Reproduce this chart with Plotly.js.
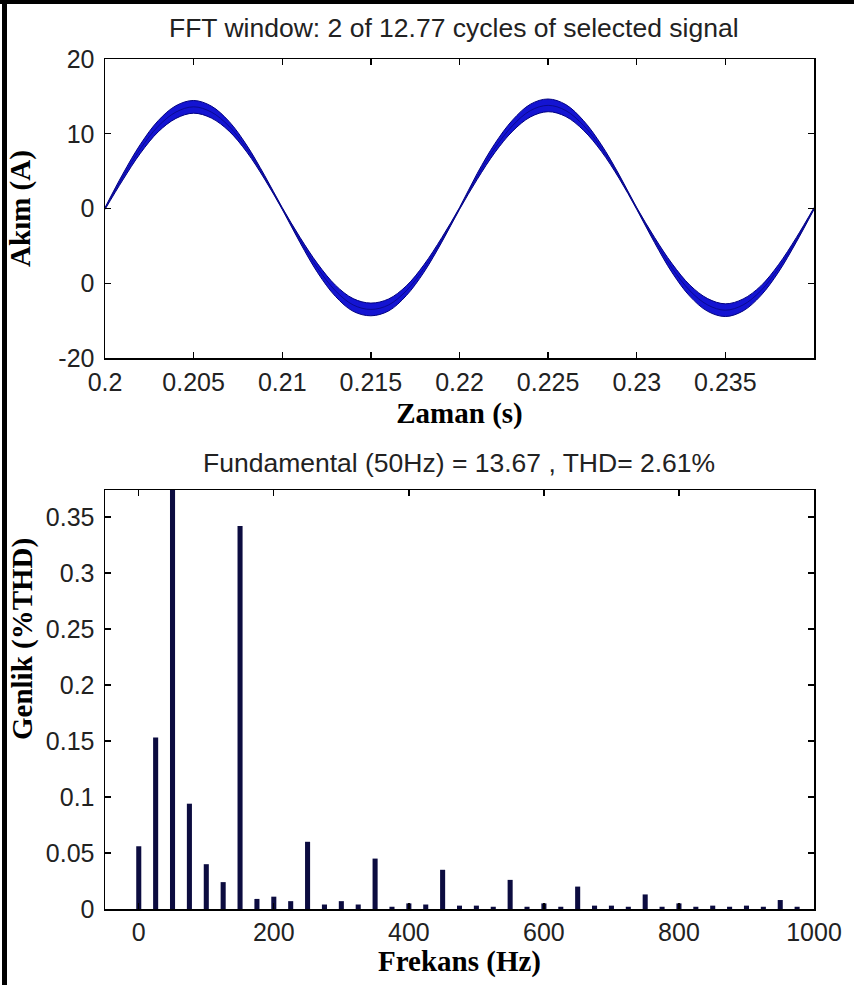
<!DOCTYPE html>
<html>
<head>
<meta charset="utf-8">
<script src="https://cdn.plot.ly/plotly-3.0.1.min.js"></script>
<style>
  html, body { margin: 0; padding: 0; background: #fff; }
  #wrap { position: relative; width: 854px; height: 985px; overflow: hidden; }
  #chart { position: absolute; left: 0; top: 0; width: 854px; height: 985px; }
  .bl { position: absolute; left: 2px; top: 0; width: 5px; height: 985px; background: #000; }
  .bt { position: absolute; left: 0; top: 0; width: 854px; height: 4px; background: #000; }
</style>
</head>
<body>
<div id="wrap">
  <div id="chart"></div>
  <div class="bl"></div>
  <div class="bt"></div>
</div>
<script>
// ---- Time signal ----
const timeS = [0.200,0.201,0.202,0.203,0.204,0.205,0.206,0.207,0.208,0.209,
               0.210,0.211,0.212,0.213,0.214,0.215,0.216,0.217,0.218,0.219,
               0.220,0.221,0.222,0.223,0.224,0.225,0.226,0.227,0.228,0.229,
               0.230,0.231,0.232,0.233,0.234,0.235,0.236,0.237,0.238,0.239,0.240];
const currentA = [0,4.2,8.0,11.0,12.9,13.6,12.9,11.0,8.0,4.2,
                  0,-4.2,-8.0,-11.0,-12.9,-13.5,-12.9,-11.0,-8.0,-4.2,
                  0,4.3,8.1,11.1,13.1,13.8,13.1,11.1,8.1,4.3,
                  0,-4.2,-8.0,-11.0,-12.9,-13.6,-12.9,-11.0,-8.0,-4.2,0];
const rippleA = [0.12,0.4,0.6,0.75,0.85,0.85,0.8,0.65,0.45,0.25,
                 0.12,0.35,0.6,0.75,0.85,0.85,0.8,0.65,0.5,0.3,
                 0.12,0.4,0.6,0.75,0.85,0.85,0.8,0.65,0.45,0.25,
                 0.12,0.35,0.6,0.75,0.85,0.85,0.8,0.65,0.5,0.3,0.12];

// ---- Harmonic spectrum ----
const freqHz = [0,25,50,75,100,125,150,175,200,225,
                250,275,300,325,350,375,400,425,450,475,
                500,525,550,575,600,625,650,675,700,725,
                750,775,800,825,850,875,900,925,950,975];
const magPct = [0.056,0.153,100,0.094,0.040,0.024,0.342,0.009,0.011,0.007,
                0.060,0.004,0.007,0.004,0.045,0.002,0.005,0.004,0.035,0.003,
                0.003,0.002,0.026,0.002,0.005,0.002,0.020,0.003,0.003,0.002,
                0.013,0.002,0.005,0.002,0.003,0.002,0.003,0.002,0.008,0.002];

// ---- Tick labels ----
const topYVals = [20,10,0,-10,-20];
const topYText = ["20","10","0","0","-20"];
const topXVals = [0.2,0.205,0.21,0.215,0.22,0.225,0.23,0.235];
const topXText = ["0.2","0.205","0.21","0.215","0.22","0.225","0.23","0.235"];
const botYVals = [0,0.05,0.1,0.15,0.2,0.25,0.3,0.35];
const botYText = ["0","0.05","0.1","0.15","0.2","0.25","0.3","0.35"];
const botXVals = [0,200,400,600,800,1000];

const upper = currentA.map((v,i)=>v+rippleA[i]);
const lower = currentA.map((v,i)=>v-rippleA[i]);

const sans = "Liberation Sans, Arial, sans-serif";
const serif = "Liberation Serif, Times New Roman, serif";

const traces = [
  {x: timeS, y: upper, type:'scatter', mode:'lines', line:{color:'#000080', width:1, shape:'spline'},
   xaxis:'x', yaxis:'y', hoverinfo:'skip', showlegend:false},
  {x: timeS, y: lower, type:'scatter', mode:'lines', line:{color:'#000080', width:1, shape:'spline'},
   fill:'tonexty', fillcolor:'#1414d2', xaxis:'x', yaxis:'y', showlegend:false},
  {x: timeS, y: currentA, type:'scatter', mode:'lines', line:{color:'#0a0a90', width:1, shape:'spline'},
   xaxis:'x', yaxis:'y', showlegend:false},
  {x: freqHz, y: magPct, type:'bar', marker:{color:'#0c0c40'}, width:7.5,
   xaxis:'x2', yaxis:'y2', showlegend:false}
];

const axCommon = {
  showgrid:false, zeroline:false, showline:true, linecolor:'#000', linewidth:1.5,
  mirror:'ticks', ticks:'inside', ticklen:6, tickwidth:1.3, tickcolor:'#000',
  tickfont:{family:sans, size:25, color:'#222'}
};

const layout = {
  width:854, height:985,
  margin:{l:105, r:40, t:59, b:76},
  paper_bgcolor:'#fff', plot_bgcolor:'#fff',
  showlegend:false,
  xaxis: Object.assign({}, axCommon, {
    domain:[0,1], anchor:'y', range:[0.2,0.24],
    tickmode:'array', tickvals:topXVals, ticktext:topXText, ticklabelstandoff:1,
    title:{text:'Zaman (s)', font:{family:serif, size:29, color:'#000', weight:'bold'}, standoff:8}
  }),
  yaxis: Object.assign({}, axCommon, {
    domain:[0.6482,1], anchor:'x', range:[-20,20],
    tickmode:'array', tickvals:topYVals, ticktext:topYText, ticklabelstandoff:4,
    title:{text:'Akım (A)', font:{family:serif, size:29, color:'#000', weight:'bold'}, standoff:19}
  }),
  xaxis2: Object.assign({}, axCommon, {
    domain:[0,1], anchor:'y2', range:[-50,1000],
    tickmode:'array', tickvals:botXVals, ticklabelstandoff:0,
    title:{text:'Frekans (Hz)', font:{family:serif, size:29, color:'#000', weight:'bold'}, standoff:0}
  }),
  yaxis2: Object.assign({}, axCommon, {
    domain:[0,0.4929], anchor:'x2', range:[0,0.374],
    tickmode:'array', tickvals:botYVals, ticktext:botYText, ticklabelstandoff:4
  }),
  annotations:[
    {text:'FFT window: 2 of 12.77 cycles of selected signal', xref:'paper', yref:'paper',
     x:(454-105)/709, y:(909-28)/850, xanchor:'center', yanchor:'middle', showarrow:false,
     font:{family:sans, size:26.5, color:'#222'}},
    {text:'Fundamental (50Hz) = 13.67 , THD= 2.61%', xref:'paper', yref:'paper',
     x:(459-105)/709, y:(909-463)/850, xanchor:'center', yanchor:'middle', showarrow:false,
     font:{family:sans, size:26.5, color:'#222'}},
    {text:'Genlik (%THD)', xref:'paper', yref:'paper', textangle:-90,
     x:(22-105)/709, y:(909-639)/850, xanchor:'center', yanchor:'middle', showarrow:false,
     font:{family:serif, size:29, color:'#000', weight:'bold'}}
  ]
};

Plotly.newPlot('chart', traces, layout, {staticPlot:true, displayModeBar:false});
</script>
</body>
</html>
